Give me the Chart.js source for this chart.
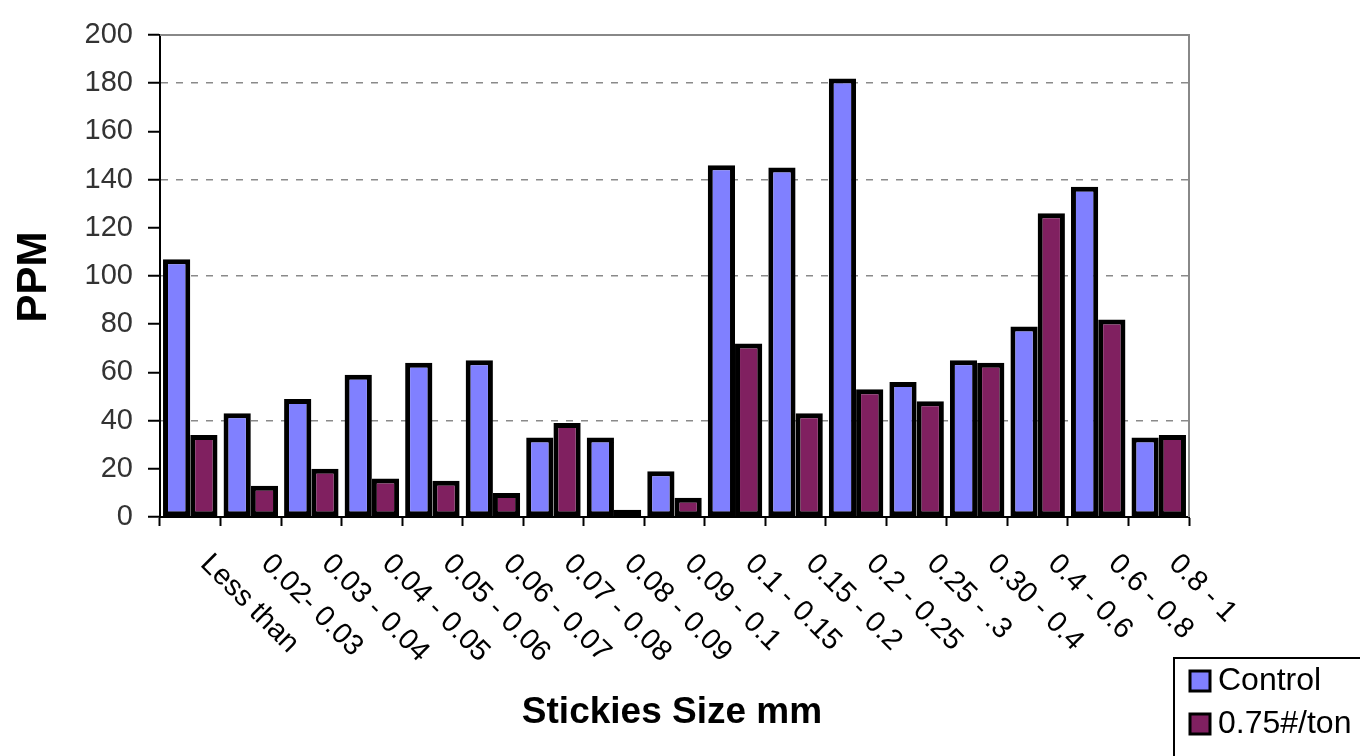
<!DOCTYPE html>
<html>
<head>
<meta charset="utf-8">
<title>Stickies Size</title>
<script src="https://cdn.jsdelivr.net/npm/chart.js@4.4.1/dist/chart.umd.min.js"></script>
<style>
  html, body { margin: 0; padding: 0; background: #fff; }
  #wrap { width: 1360px; height: 756px; position: relative; }
</style>
</head>
<body>
<div id="wrap"><canvas id="stickiesChart" width="1360" height="756"></canvas></div>
<script>
// --- data ---
const categories = ['Less than', '0.02- 0.03', '0.03 - 0.04', '0.04 - 0.05', '0.05 - 0.06',
  '0.06 - 0.07', '0.07 - 0.08', '0.08 - 0.09', '0.09 - 0.1', '0.1 - 0.15', '0.15 - 0.2',
  '0.2 - 0.25', '0.25 - .3', '0.30 - 0.4', '0.4 - 0.6', '0.6 - 0.8', '0.8 - 1'];
const controlValues = [107, 43, 49, 59, 64, 65, 33, 33, 19, 146, 145, 182, 56, 65, 79, 137, 33];
const treatedValues = [34, 13, 20, 16, 15, 10, 39, 3, 8, 72, 43, 53, 48, 64, 126, 82, 34];
const seriesNames = ['Control', '0.75#/ton'];
const seriesColors = ['#8080ff', '#802060'];
const dashedGridValues = [40, 100, 140, 180];

const FONT = '"Liberation Sans", Arial, sans-serif';

// category labels, axis titles, frame and legend box
const decorations = {
    id: 'decorations',
    afterDraw(chart) {
        const { ctx, chartArea: a, scales: { x } } = chart;
        ctx.save();

        // grey frame on top and right of the plot
        ctx.strokeStyle = '#888';
        ctx.lineWidth = 2;
        ctx.beginPath();
        ctx.moveTo(a.left, a.top);
        ctx.lineTo(a.right, a.top);
        ctx.lineTo(a.right, a.bottom);
        ctx.stroke();

        // slanted category labels (going down to the right)
        ctx.fillStyle = '#000';
        ctx.font = '29px ' + FONT;
        ctx.textAlign = 'left';
        ctx.textBaseline = 'top';
        categories.forEach((label, i) => {
            const px = x.getPixelForValue(i);
            ctx.save();
            ctx.translate(px + 25, a.bottom + 32);
            ctx.rotate(Math.PI / 4);
            ctx.fillText(label, 0, 0);
            ctx.restore();
        });

        // axis titles
        ctx.font = 'bold 37px ' + FONT;
        ctx.textAlign = 'center';
        ctx.textBaseline = 'middle';
        ctx.fillText('Stickies Size mm', 672, 713);

        ctx.save();
        ctx.translate(34, 277);
        ctx.rotate(-Math.PI / 2);
        ctx.font = 'bold 42px ' + FONT;
        ctx.fillText('PPM', 0, 0);
        ctx.restore();

        // legend box in the bottom right corner
        ctx.strokeStyle = '#000';
        ctx.lineWidth = 2;
        ctx.strokeRect(1174, 658, 220, 120);
        ctx.font = '32px ' + FONT;
        ctx.textAlign = 'left';
        ctx.textBaseline = 'middle';
        seriesNames.forEach((name, i) => {
            const y = 681 + i * 43;
            ctx.fillStyle = seriesColors[i];
            ctx.fillRect(1190, y - 10, 20, 20);
            ctx.lineWidth = 3;
            ctx.strokeRect(1190, y - 10, 20, 20);
            ctx.fillStyle = '#000';
            ctx.fillText(name, 1218, y);
        });

        ctx.restore();
    }
};

const ctx = document.getElementById('stickiesChart').getContext('2d');

new Chart(ctx, {
    type: 'bar',
    data: {
        labels: categories,
        datasets: [
            { label: seriesNames[0], data: controlValues, backgroundColor: seriesColors[0] },
            { label: seriesNames[1], data: treatedValues, backgroundColor: seriesColors[1] }
        ]
    },
    options: {
        responsive: false,
        animation: false,
        layout: { padding: { top: 35, right: 171, left: 0, bottom: 0 } },
        datasets: {
            bar: {
                borderColor: '#000',
                borderWidth: 5,
                borderSkipped: false,
                categoryPercentage: 0.9,
                barPercentage: 1.0
            }
        },
        scales: {
            x: {
                ticks: { display: false },
                grid: {
                    drawOnChartArea: false,
                    tickLength: 9,
                    tickColor: '#000',
                    tickWidth: 2
                },
                border: { color: '#000', width: 2 },
                afterFit: (scale) => { scale.height = 239; }
            },
            y: {
                min: 0,
                max: 200,
                ticks: {
                    stepSize: 20,
                    padding: 15,
                    color: '#333',
                    font: { family: FONT, size: 29 }
                },
                grid: {
                    color: (c) => (c.tick && dashedGridValues.includes(c.tick.value)) ? '#8a8a8a' : 'rgba(0,0,0,0)',
                    lineWidth: 1.5,
                    tickLength: 12,
                    tickColor: '#000',
                    tickWidth: 2
                },
                border: { color: '#000', width: 2, dash: [7, 8] },
                afterFit: (scale) => { scale.width = 160; }
            }
        },
        plugins: {
            legend: { display: false },
            tooltip: { enabled: false }
        }
    },
    plugins: [decorations]
});
</script>
</body>
</html>
